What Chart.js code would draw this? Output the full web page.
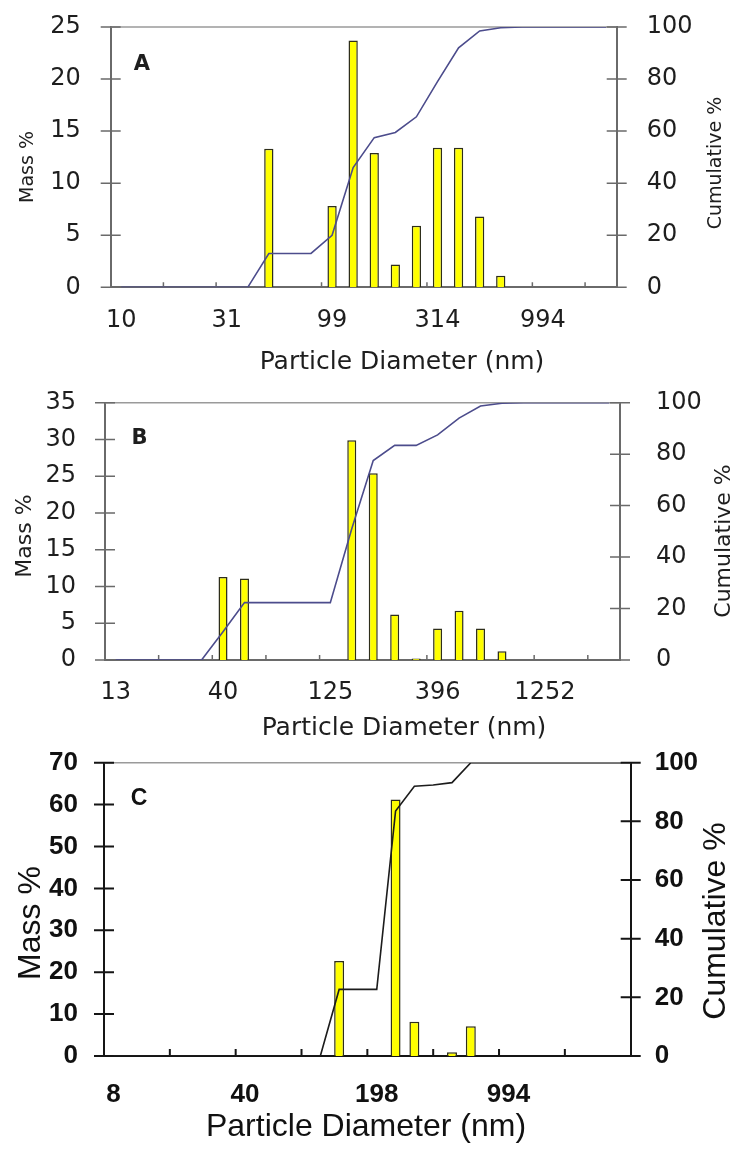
<!DOCTYPE html>
<html>
<head>
<meta charset="utf-8">
<script src="https://cdn.jsdelivr.net/npm/chart.js@4.4.1/dist/chart.umd.min.js"></script>
<style>
  html, body { margin: 0; padding: 0; background: #fff; }
  .panel { position: relative; width: 739px; }
</style>
</head>
<body>
<div class="panel" style="height:375px"><canvas id="chartA"></canvas></div>
<div class="panel" style="height:375px"><canvas id="chartB"></canvas></div>
<div class="panel" style="height:413px"><canvas id="chartC"></canvas></div>
<script>
// Panel A - size bins (nm), mass % per bin, cumulative %
const binsA = [9.94, 12.5, 15.7, 19.8, 24.9, 31.4, 39.5, 49.8, 62.7, 79.0, 99.4, 125, 158, 198, 250, 314, 396, 498, 627, 790, 994, 1252, 1576, 1984];
const massA = [null, null, null, null, null, null, null, 13.3, null, null, 7.8, 23.7, 12.9, 2.2, 5.9, 13.4, 13.4, 6.8, 1.1, null, null, null, null, null];
const cumA = [0, 0, 0, 0, 0, 0, 0, 13, 13, 13, 20, 46, 57.5, 59.5, 65.5, 79, 92, 98.5, 99.7, 100, 100, 100, 100, 100];
const tickLabelsA = ['10', '31', '99', '314', '994'];
const tickBinsA = [0, 5, 10, 15, 20];

// Panel B
const binsB = [12.5, 15.8, 19.8, 25.0, 31.5, 39.6, 49.9, 62.8, 79.0, 99.5, 125, 158, 198, 250, 315, 396, 499, 628, 790, 995, 1252, 1576, 1985, 2499];
const massB = [null, null, null, null, null, 11.3, 11.1, null, null, null, null, 29.9, 25.4, 6.2, 0.2, 4.3, 6.7, 4.3, 1.2, null, null, null, null, null];
const cumB = [0, 0, 0, 0, 0, 11, 22.3, 22.3, 22.3, 22.3, 22.3, 51, 77.5, 83.4, 83.4, 87.5, 94, 98.7, 99.8, 100, 100, 100, 100, 100];
const tickLabelsB = ['13', '40', '125', '396', '1252'];
const tickBinsB = [0, 5, 10, 15, 20];

// Panel C
const binsC = [7.9, 9.9, 12.5, 15.8, 19.8, 25.0, 31.5, 39.6, 49.8, 62.8, 79.0, 99.5, 125, 158, 198, 250, 315, 396, 498, 628, 790, 994, 1252, 1576, 1984, 2498, 3145, 3959];
const massC = [null, null, null, null, null, null, null, null, null, null, null, null, 22.7, null, null, 61.2, 8.2, null, 0.9, 7.1, null, null, null, null, null, null, null, null];
const cumC = [0, 0, 0, 0, 0, 0, 0, 0, 0, 0, 0, 0, 22.7, 22.7, 22.7, 83.5, 92, 92.4, 93.2, 100, 100, 100, 100, 100, 100, 100, 100, 100];
const tickLabelsC = ['8', '40', '198', '994'];
const tickBinsC = [0, 7, 14, 21];

// Draws the top frame line, crossing tick marks and the free text (titles, panel letter)
const framePlugin = {
    id: 'frame',
    beforeDatasetsDraw(chart, args, opts) {
        const { ctx, chartArea: a, scales } = chart;
        ctx.save();
        ctx.strokeStyle = opts.topColor;
        ctx.lineWidth = 1.5;
        ctx.beginPath();
        ctx.moveTo(a.left, a.top);
        ctx.lineTo(a.right, a.top);
        ctx.stroke();

        ctx.strokeStyle = opts.tickColor;
        ctx.lineWidth = opts.tickWidth;
        ctx.beginPath();
        scales.y.ticks.forEach(t => {
            const py = scales.y.getPixelForValue(t.value);
            ctx.moveTo(a.left - opts.tickLen, py);
            ctx.lineTo(a.left + opts.tickLen, py);
        });
        scales.y2.ticks.forEach(t => {
            const py = scales.y2.getPixelForValue(t.value);
            ctx.moveTo(a.right - opts.tickLen, py);
            ctx.lineTo(a.right + opts.tickLen, py);
        });
        // small inside ticks on the diameter axis
        for (let v = -0.5 + opts.xStep; v < scales.x.max + 0.49; v += opts.xStep) {
            const px = scales.x.getPixelForValue(v);
            ctx.moveTo(px, a.bottom);
            ctx.lineTo(px, a.bottom - opts.xTickLen);
        }
        ctx.stroke();
        ctx.restore();
    },
    afterDraw(chart, args, opts) {
        const ctx = chart.ctx;
        ctx.save();
        ctx.fillStyle = opts.textColor;
        ctx.textAlign = 'center';
        ctx.textBaseline = 'middle';
        opts.texts.forEach(t => {
            ctx.save();
            ctx.font = t.font;
            ctx.translate(t.x, t.y);
            if (t.rot) ctx.rotate(-Math.PI / 2);
            ctx.fillText(t.text, 0, 0);
            ctx.restore();
        });
        ctx.restore();
    }
};

// fixed axis sizes so the plot area lands where it is in the figure
function fixSize(prop, size) {
    return function(s) {
        s[prop] = size;
        s.paddingTop = 0;
        s.paddingBottom = 0;
        s.paddingLeft = 0;
        s.paddingRight = 0;
    };
}

function makePanel(id, bins, mass, cum, tickLabels, tickBins, p) {
    const tickFont = { family: p.family, size: p.tickSize, weight: p.tickWeight };
    const axisBorder = { color: p.axisColor, width: 2 };
    return new Chart(document.getElementById(id), {
        type: 'bar',
        data: {
            labels: bins,
            datasets: [{
                type: 'line',
                label: 'Cumulative %',
                data: cum,
                yAxisID: 'y2',
                borderColor: p.lineColor,
                borderWidth: 1.6,
                pointRadius: 0,
                tension: 0,
                fill: false,
                order: 0
            }, {
                type: 'bar',
                label: 'Mass %',
                data: mass,
                yAxisID: 'y',
                backgroundColor: '#ffff00',
                borderColor: '#2e2e1a',
                borderWidth: 1.5,
                barPercentage: p.barPct,
                categoryPercentage: 1,
                order: 1
            }]
        },
        options: {
            responsive: true,
            maintainAspectRatio: false,
            animation: false,
            events: [],
            layout: { padding: { top: p.top, left: 0, right: 0, bottom: 0 } },
            plugins: {
                legend: { display: false },
                tooltip: { enabled: false },
                frame: {
                    topColor: '#9a9a9a',
                    tickColor: p.axisColor,
                    tickWidth: p.tickWidth,
                    tickLen: 10,
                    xStep: p.xStep,
                    xTickLen: p.xTickLen,
                    textColor: p.textColor,
                    texts: p.texts
                }
            },
            scales: {
                x: {
                    grid: { display: false, drawTicks: false },
                    border: axisBorder,
                    ticks: {
                        autoSkip: false,
                        maxRotation: 0,
                        padding: p.xPad,
                        color: p.textColor,
                        font: tickFont,
                        callback: function(value, index) {
                            const k = tickBins.indexOf(index);
                            return k < 0 ? '' : tickLabels[k];
                        }
                    },
                    afterFit: fixSize('height', p.bottom)
                },
                y: {
                    position: 'left',
                    min: 0,
                    max: p.yMax,
                    grid: { display: false, drawTicks: false },
                    border: axisBorder,
                    ticks: { stepSize: p.yStep, padding: p.yPad, color: p.textColor, font: tickFont },
                    afterFit: fixSize('width', p.left)
                },
                y2: {
                    position: 'right',
                    min: 0,
                    max: 100,
                    grid: { display: false, drawTicks: false },
                    border: axisBorder,
                    ticks: { stepSize: 20, padding: p.y2Pad, color: p.textColor, font: tickFont },
                    afterFit: fixSize('width', p.right)
                }
            }
        },
        plugins: [framePlugin]
    });
}

const dejavu = '"DejaVu Sans", sans-serif';
const liberation = '"Liberation Sans", Arial, sans-serif';

makePanel('chartA', binsA, massA, cumA, tickLabelsA, tickBinsA, {
    family: dejavu, tickSize: 24, tickWeight: 'normal',
    top: 27, bottom: 87.7, left: 110.7, right: 122.3,
    yMax: 25, yStep: 5, yPad: 30, y2Pad: 30, xPad: 19,
    xStep: 2.5, xTickLen: 5, barPct: 0.44, tickWidth: 1.5,
    axisColor: '#6a6a6a', lineColor: '#4c4c8c', textColor: '#1e1e1e',
    texts: [
        { text: 'A', x: 142, y: 64.5, font: 'bold 21px ' + dejavu },
        { text: 'Particle Diameter (nm)', x: 402, y: 362, font: '25px ' + dejavu },
        { text: 'Mass %', x: 28, y: 167, font: '19px ' + dejavu, rot: true },
        { text: 'Cumulative %', x: 716, y: 163, font: '19px ' + dejavu, rot: true }
    ]
});

makePanel('chartB', binsB, massB, cumB, tickLabelsB, tickBinsB, {
    family: dejavu, tickSize: 24, tickWeight: 'normal',
    top: 27.7, bottom: 90, left: 105, right: 119,
    yMax: 35, yStep: 5, yPad: 29, y2Pad: 36, xPad: 18,
    xStep: 2.5, xTickLen: 5, barPct: 0.42, tickWidth: 1.5,
    axisColor: '#6a6a6a', lineColor: '#4c4c8c', textColor: '#1e1e1e',
    texts: [
        { text: 'B', x: 139.5, y: 64, font: 'bold 21px ' + dejavu },
        { text: 'Particle Diameter (nm)', x: 404, y: 353, font: '25px ' + dejavu },
        { text: 'Mass %', x: 25, y: 161, font: '22px ' + dejavu, rot: true },
        { text: 'Cumulative %', x: 724, y: 166, font: '22px ' + dejavu, rot: true }
    ]
});

makePanel('chartC', binsC, massC, cumC, tickLabelsC, tickBinsC, {
    family: liberation, tickSize: 26, tickWeight: 'bold',
    top: 12.7, bottom: 107, left: 104, right: 108.3,
    yMax: 70, yStep: 10, yPad: 26, y2Pad: 24, xPad: 23,
    xStep: 3.5, xTickLen: 7, barPct: 0.53, tickWidth: 2,
    axisColor: '#151515', lineColor: '#1c1c1c', textColor: '#111111',
    texts: [
        { text: 'C', x: 139, y: 49, font: 'bold 23px ' + liberation },
        { text: 'Particle Diameter (nm)', x: 366, y: 377, font: '32px ' + liberation },
        { text: 'Mass %', x: 31, y: 173, font: '32px ' + liberation, rot: true },
        { text: 'Cumulative %', x: 716, y: 171, font: '32px ' + liberation, rot: true }
    ]
});
</script>
</body>
</html>
